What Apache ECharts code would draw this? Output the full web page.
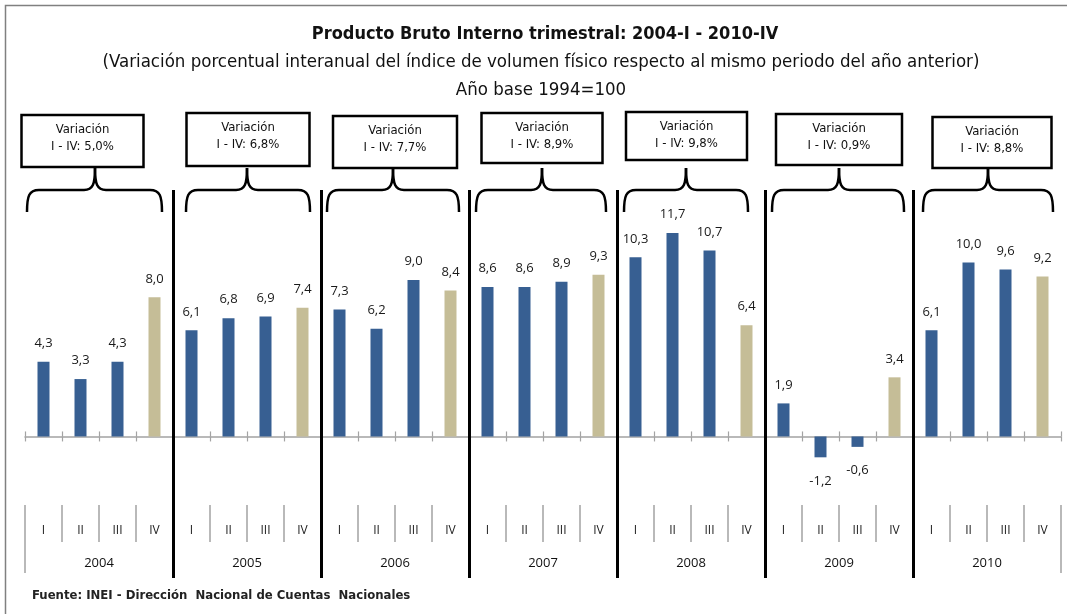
<!DOCTYPE html>
<html>
<head>
<meta charset="utf-8">
<script src="https://cdn.jsdelivr.net/npm/echarts@6/dist/echarts.min.js"></script>
<style>
html,body{margin:0;padding:0;background:#fff;}
#chart{width:1067px;height:614px;}
</style>
</head>
<body>
<div id="chart"></div>
<script>
// ---- Data ----
const years = ['2004', '2005', '2006', '2007', '2008', '2009', '2010'];
const quarters = ['I', 'II', 'III', 'IV'];
const values = [
  4.3, 3.3, 4.3, 8.0,
  6.1, 6.8, 6.9, 7.4,
  7.3, 6.2, 9.0, 8.4,
  8.6, 8.6, 8.9, 9.3,
  10.3, 11.7, 10.7, 6.4,
  1.9, -1.2, -0.6, 3.4,
  6.1, 10.0, 9.6, 9.2
];
const annualVariation = ['5,0', '6,8', '7,7', '8,9', '9,8', '0,9', '8,8'];
const titleText = 'Producto Bruto Interno trimestral: 2004-I - 2010-IV';
const subtitleText = '(Variación porcentual interanual del índice de volumen físico respecto al mismo periodo del año anterior)';
const baseText = 'Año base 1994=100';
const sourceText = 'Fuente: INEI - Dirección  Nacional de Cuentas  Nacionales';

// ---- Styling / layout constants (hand-drawn annotation offsets, px) ----
const BLUE = '#375F92';
const TAN = '#C5BD97';
const NARROW = '"Liberation Sans Narrow", "DejaVu Sans Condensed", "Arial Narrow", sans-serif';
const LBL = '"Open Sans", sans-serif';
const GRAY = '#A3A3A3';
const L = 25, R = 6;
const braceLeft  = [-72, -61, -68, -67, -67, -67, -64];
const braceRight = [ 63,  63,  64,  63,  57,  65,  66];
const spikeOff   = [ -4,   0,  -2,  -1,  -5,   0,   1];
const boxCenterOff = [-16.5, 1, 0, -1, -4.5, 0, 5];
const boxWidth   = [122, 123, 124, 121, 121, 126, 119];
const boxTop     = [115, 113, 116, 113, 112, 114, 117];
const boxHeight  = [52, 53, 52, 50, 48, 51, 51];

const cats = [];
years.forEach(y => quarters.forEach(q => cats.push(y + '-' + q)));
const fmt = v => v.toFixed(1).replace('.', ',');

const barData = values.map((v, i) => ({
  value: v,
  itemStyle: { color: (i % 4 === 3) ? TAN : BLUE },
  label: { position: v < 0 ? 'bottom' : 'top', distance: v < 0 ? 17 : 12 }
}));

const chart = echarts.init(document.getElementById('chart'), null, { renderer: 'canvas' });

const option = {
  animation: false,
  backgroundColor: '#fff',
  grid: [
    { left: L, right: R, top: 193, height: 313 },      // bars
    { left: L, right: R, top: 505, height: 37 },       // quarter labels
    { left: L, right: R, top: 190, height: 388 },      // year labels + separators
    { left: L, right: R, top: 505, height: 68 }        // edge lines
  ],
  xAxis: [
    {
      gridIndex: 0, type: 'category', data: cats, position: 'bottom',
      axisLine: { onZero: true, lineStyle: { color: GRAY, width: 1.5 } },
      axisTick: { show: true, interval: 0, length: 5, lineStyle: { color: GRAY, width: 1.2 } },
      axisLabel: { show: false }, splitLine: { show: false }
    },
    {
      gridIndex: 0, type: 'category', data: cats, position: 'top',
      axisLine: { show: false, onZero: true, onZeroAxisIndex: 0 },
      axisTick: { show: true, interval: 0, length: 5, lineStyle: { color: GRAY, width: 1.2 } },
      axisLabel: { show: false }, splitLine: { show: false }
    },
    {
      gridIndex: 1, type: 'category', data: cats, position: 'bottom',
      axisLine: { show: false, onZero: false },
      axisTick: { show: true, inside: true, interval: 0, length: 37, lineStyle: { color: GRAY, width: 1.5 } },
      axisLabel: {
        interval: 0, margin: -17, color: '#222', fontFamily: LBL, fontSize: 12,
        formatter: v => v.split('-')[1]
      },
      splitLine: { show: false }
    },
    {
      gridIndex: 2, type: 'category', data: years, position: 'bottom', z: 5,
      axisLine: { show: false, onZero: false },
      axisTick: { show: false },
      axisLabel: { interval: 0, margin: -21, color: '#111', fontFamily: LBL, fontSize: 13 },
      splitLine: { show: true, interval: 0, showMinLine: false, showMaxLine: false, lineStyle: { color: '#000', width: 3 } }
    },
    {
      gridIndex: 3, type: 'category', data: [''], position: 'bottom',
      axisLine: { show: false, onZero: false },
      axisTick: { show: true, inside: true, length: 68, lineStyle: { color: GRAY, width: 1.5 } },
      axisLabel: { show: false }, splitLine: { show: false }
    }
  ],
  yAxis: [
    { gridIndex: 0, type: 'value', min: -4, max: 14, show: false },
    { gridIndex: 1, type: 'value', show: false },
    { gridIndex: 2, type: 'value', show: false },
    { gridIndex: 3, type: 'value', show: false }
  ],
  series: [{
    type: 'bar',
    xAxisIndex: 0, yAxisIndex: 0,
    barWidth: 12,
    data: barData,
    label: {
      show: true, color: '#1a1a1a', fontFamily: LBL, fontSize: 13,
      formatter: p => fmt(p.value)
    }
  }]
};
chart.setOption(option);

// ---- Annotations (titles, boxes, braces) ----
const g = [];
g.push({ type: 'rect', silent: true, z: -1, shape: { x: 5.5, y: 5.5, width: 1200, height: 800 },
  style: { fill: 'none', stroke: '#808080', lineWidth: 1.5 } });
g.push({ type: 'text', style: { text: titleText, x: 545, y: 34, textAlign: 'center', textVerticalAlign: 'middle',
  font: 'bold 18px ' + NARROW, fill: '#111' } });
g.push({ type: 'text', style: { text: subtitleText, x: 541, y: 62, textAlign: 'center', textVerticalAlign: 'middle',
  font: '18.5px ' + NARROW, fill: '#111' } });
g.push({ type: 'text', style: { text: baseText, x: 541, y: 90, textAlign: 'center', textVerticalAlign: 'middle',
  font: '18.5px ' + NARROW, fill: '#111' } });
g.push({ type: 'text', style: { text: sourceText, x: 32, y: 596, textAlign: 'left', textVerticalAlign: 'middle',
  font: 'bold 13px ' + NARROW, fill: '#222' } });

years.forEach((y, i) => {
  const cx = chart.convertToPixel({ xAxisIndex: 3 }, y);
  const sx = cx + spikeOff[i];
  const x0 = cx + braceLeft[i], x1 = cx + braceRight[i];
  const yTop = 168, yMid = 190, yBot = 212;
  const stroke = { stroke: '#000', lineWidth: 2.5, fill: 'none' };
  g.push({ type: 'bezierCurve', silent: true, shape: { x1: x0, y1: yBot, x2: x0 + 12, y2: yMid, cpx1: x0, cpy1: yMid + 6, cpx2: x0 + 2, cpy2: yMid }, style: stroke });
  g.push({ type: 'line', silent: true, shape: { x1: x0 + 12, y1: yMid, x2: sx - 11, y2: yMid }, style: stroke });
  g.push({ type: 'bezierCurve', silent: true, shape: { x1: sx - 11, y1: yMid, x2: sx, y2: yTop, cpx1: sx - 2, cpy1: yMid, cpx2: sx, cpy2: yMid - 6 }, style: stroke });
  g.push({ type: 'bezierCurve', silent: true, shape: { x1: sx + 11, y1: yMid, x2: sx, y2: yTop, cpx1: sx + 2, cpy1: yMid, cpx2: sx, cpy2: yMid - 6 }, style: stroke });
  g.push({ type: 'line', silent: true, shape: { x1: sx + 11, y1: yMid, x2: x1 - 12, y2: yMid }, style: stroke });
  g.push({ type: 'bezierCurve', silent: true, shape: { x1: x1 - 12, y1: yMid, x2: x1, y2: yBot, cpx1: x1 - 2, cpy1: yMid, cpx2: x1, cpy2: yMid + 6 }, style: stroke });

  const bc = cx + boxCenterOff[i];
  const w = boxWidth[i], h = boxHeight[i], top = boxTop[i];
  g.push({ type: 'rect', silent: true, shape: { x: bc - w / 2, y: top, width: w, height: h },
    style: { fill: '#fff', stroke: '#000', lineWidth: 2.5 } });
  g.push({ type: 'text', silent: true, style: {
    text: 'Variación\nI - IV: ' + annualVariation[i] + '%', x: bc, y: top + 23.5,
    textAlign: 'center', textVerticalAlign: 'middle', font: '13px ' + NARROW, lineHeight: 17, fill: '#111' } });
});
chart.setOption({ graphic: { elements: g } });
</script>
</body>
</html>
